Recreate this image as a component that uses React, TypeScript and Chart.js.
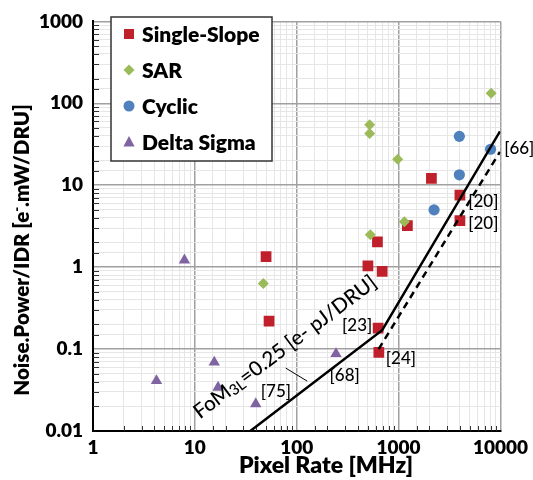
import React, { useEffect, useRef } from 'react';
import { Chart, registerables } from 'chart.js';

Chart.register(...registerables);

// ---------- data ----------
const singleSlopeX = [2100, 4000, 4000, 1220, 620, 500, 690, 630, 640, 50, 53.5];
const singleSlopeY = [12.1, 7.55, 3.69, 3.21, 2.03, 1.04, 0.89, 0.18, 0.091, 1.34, 0.22];
const sarX = [8100, 520, 520, 980, 1140, 528, 47];
const sarY = [133, 54.8, 42.7, 20.7, 3.59, 2.48, 0.63];
const cyclicX = [3950, 8000, 3950, 2230];
const cyclicY = [39.5, 27.5, 13.4, 5.0];
const deltaX = [7.9, 15.5, 4.2, 16.9, 39.6, 243];
const deltaY = [1.22, 0.069, 0.041, 0.034, 0.0214, 0.0876];
const fomSolidX = [35, 690, 9900];
const fomSolidY = [0.01, 0.17, 45.5];
const fomDashX = [637, 9870];
const fomDashY = [0.1, 25.5];

const seriesNames = ['Single-Slope', 'SAR', 'Cyclic', 'Delta Sigma'];
const seriesColors = ['#C0202B', '#9BBB59', '#4F81BD', '#8064A2'];
const seriesStyles = ['rect', 'rectRot', 'circle', 'triangle'];

const xTickValues = [1, 10, 100, 1000, 10000];
const yTickValues = [0.01, 0.1, 1, 10, 100, 1000];

// reference labels: [text, x value, y value] (left-middle anchor)
const refLabels: [string, number, number][] = [
  ['[66]', 10870, 28.0],
  ['[20]', 4830, 6.3],
  ['[20]', 4830, 3.44],
  ['[23]', 278.6, 0.195],
  ['[24]', 750, 0.076],
  ['[68]', 210, 0.048],
  ['[75]', 44.4, 0.0303],
];
const fomLabelAnchor = [11.2, 0.0138];
const leaderX = [77.9, 126.8];
const leaderY = [0.0587, 0.0406];

const FONT = 'Lato, "Open Sans", sans-serif';
const BOLD = '800';

const zip = (xs: number[], ys: number[]) => xs.map((x, i) => ({ x, y: ys[i] }));
const isPow10 = (v: number) => Math.abs(Math.log10(v) - Math.round(Math.log10(v))) < 1e-9;

function drawMarker(ctx: CanvasRenderingContext2D, style: string, x: number, y: number, color: string) {
  ctx.save();
  ctx.fillStyle = color;
  ctx.beginPath();
  if (style === 'rect') {
    ctx.rect(x - 5, y - 5, 10, 10);
  } else if (style === 'rectRot') {
    ctx.moveTo(x - 5.5, y);
    ctx.lineTo(x, y - 5.5);
    ctx.lineTo(x + 5.5, y);
    ctx.lineTo(x, y + 5.5);
    ctx.closePath();
  } else if (style === 'circle') {
    ctx.arc(x, y, 5.5, 0, Math.PI * 2);
  } else {
    ctx.moveTo(x, y - 6);
    ctx.lineTo(x + 5.6, y + 4.5);
    ctx.lineTo(x - 5.6, y + 4.5);
    ctx.closePath();
  }
  ctx.fill();
  ctx.restore();
}

const decorPlugin = {
  id: 'decor',
  beforeDatasetsDraw(chart: any) {
    const { ctx, chartArea: a, scales } = chart;
    const xs = scales.x;
    const ys = scales.y;
    ctx.save();
    ctx.strokeStyle = '#333';
    ctx.lineWidth = 1;
    ctx.beginPath();
    xs.ticks.forEach((t: any) => {
      if (isPow10(t.value)) return;
      const px = Math.round(xs.getPixelForValue(t.value)) + 0.5;
      ctx.moveTo(px, a.bottom);
      ctx.lineTo(px, a.bottom - 5);
    });
    ys.ticks.forEach((t: any) => {
      if (isPow10(t.value)) return;
      const py = Math.round(ys.getPixelForValue(t.value)) + 0.5;
      ctx.moveTo(a.left, py);
      ctx.lineTo(a.left + 6, py);
    });
    ctx.stroke();
    ctx.restore();
  },
  afterDatasetsDraw(chart: any) {
    const { ctx, scales } = chart;
    const xs = scales.x;
    const ys = scales.y;
    ctx.save();
    ctx.fillStyle = '#000';
    ctx.font = `500 17px ${FONT}`;
    ctx.textAlign = 'left';
    ctx.textBaseline = 'middle';
    refLabels.forEach(([t, vx, vy]) => {
      ctx.fillText(t, xs.getPixelForValue(vx), ys.getPixelForValue(vy));
    });
    // leader line
    ctx.strokeStyle = '#000';
    ctx.lineWidth = 1;
    ctx.beginPath();
    ctx.moveTo(xs.getPixelForValue(leaderX[0]), ys.getPixelForValue(leaderY[0]));
    ctx.lineTo(xs.getPixelForValue(leaderX[1]), ys.getPixelForValue(leaderY[1]));
    ctx.stroke();
    // rotated FoM label
    ctx.translate(xs.getPixelForValue(fomLabelAnchor[0]), ys.getPixelForValue(fomLabelAnchor[1]));
    ctx.rotate((-37 * Math.PI) / 180);
    ctx.textBaseline = 'alphabetic';
    ctx.font = `500 20.5px ${FONT}`;
    ctx.fillText('FoM', 0, 0);
    let w = ctx.measureText('FoM').width;
    ctx.font = `500 15px ${FONT}`;
    ctx.fillText('3L', w, 2);
    w += ctx.measureText('3L').width;
    ctx.font = `500 20.5px ${FONT}`;
    ctx.fillText('=0.25 [e- pJ/DRU]', w, 0);
    ctx.restore();
  },
  afterDraw(chart: any) {
    const { ctx } = chart;
    ctx.save();
    // legend
    ctx.fillStyle = '#fff';
    ctx.fillRect(111, 17, 161, 144);
    ctx.strokeStyle = '#333';
    ctx.lineWidth = 1.5;
    ctx.strokeRect(111, 17, 161, 144);
    ctx.font = `${BOLD} 21px ${FONT}`;
    ctx.textAlign = 'left';
    ctx.textBaseline = 'middle';
    seriesNames.forEach((n, i) => {
      const cy = 34 + 36 * i;
      drawMarker(ctx, seriesStyles[i], 129, cy, seriesColors[i]);
      ctx.fillStyle = '#000';
      ctx.fillText(n, 142, cy + 1);
    });
    // x title
    ctx.fillStyle = '#000';
    ctx.font = `${BOLD} 23px ${FONT}`;
    ctx.textAlign = 'center';
    ctx.textBaseline = 'alphabetic';
    ctx.fillText('Pixel Rate [MHz]', 326, 473);
    // y title with superscript minus
    ctx.translate(29, 250);
    ctx.rotate(-Math.PI / 2);
    const p1 = 'Noise.Power/IDR [e';
    const p2 = '-';
    const p3 = '.mW/DRU]';
    ctx.font = `${BOLD} 20.5px ${FONT}`;
    const w1 = ctx.measureText(p1).width;
    const w3 = ctx.measureText(p3).width;
    ctx.font = `${BOLD} 13px ${FONT}`;
    const w2 = ctx.measureText(p2).width;
    const total = w1 + w2 + w3;
    ctx.textAlign = 'left';
    let sx = -total / 2;
    ctx.font = `${BOLD} 20.5px ${FONT}`;
    ctx.fillText(p1, sx, 0);
    sx += w1;
    ctx.font = `${BOLD} 13px ${FONT}`;
    ctx.fillText(p2, sx, -8);
    sx += w2;
    ctx.font = `${BOLD} 20.5px ${FONT}`;
    ctx.fillText(p3, sx, 0);
    ctx.restore();
  },
};

function makeScatter(i: number, xs: number[], ys: number[], order: number) {
  const r = seriesStyles[i] === 'rect' ? 7.6 : seriesStyles[i] === 'rectRot' ? 5.5 : seriesStyles[i] === 'circle' ? 5.6 : 6.6;
  return {
    type: 'scatter' as const,
    label: seriesNames[i],
    data: zip(xs, ys),
    pointStyle: seriesStyles[i],
    pointRadius: r,
    pointBackgroundColor: seriesColors[i],
    pointBorderWidth: 0,
    borderColor: seriesColors[i],
    showLine: false,
    order,
  };
}

export default function App() {
  const ref = useRef<HTMLCanvasElement | null>(null);
  useEffect(() => {
    if (!ref.current) return;
    Chart.defaults.font.family = FONT;
    const gridColor = (c: any) => (c.tick && isPow10(c.tick.value) ? '#a0a0a0' : '#e6e6e6');
    const gridWidth = (c: any) => (c.tick && isPow10(c.tick.value) ? 1.5 : 1);
    const tickCb = (v: any) => {
      const n = Number(Number(v).toPrecision(6));
      return isPow10(n) && (xTickValues.includes(n) || yTickValues.includes(n)) ? String(n) : '';
    };
    const chart = new Chart(ref.current, {
      type: 'scatter',
      data: {
        datasets: [
          {
            type: 'line',
            label: 'FoM',
            data: zip(fomSolidX, fomSolidY),
            borderColor: '#000',
            borderWidth: 2.5,
            pointRadius: 0,
            fill: false,
            tension: 0,
            showLine: true,
            order: 0,
          } as any,
          {
            type: 'line',
            label: 'FoM dashed',
            data: zip(fomDashX, fomDashY),
            borderColor: '#000',
            borderWidth: 2.5,
            borderDash: [7, 5],
            pointRadius: 0,
            fill: false,
            tension: 0,
            showLine: true,
            order: 0,
          } as any,
          makeScatter(3, deltaX, deltaY, 1),
          makeScatter(2, cyclicX, cyclicY, 2),
          makeScatter(1, sarX, sarY, 3),
          makeScatter(0, singleSlopeX, singleSlopeY, 4),
        ] as any,
      },
      options: {
        animation: false,
        responsive: false,
        devicePixelRatio: 1,
        layout: { padding: { top: 14, right: 31, left: 0, bottom: 0 } },
        plugins: { legend: { display: false }, tooltip: { enabled: false } },
        scales: {
          x: {
            type: 'logarithmic',
            min: 1,
            max: 10000,
            afterFit: (s: any) => {
              s.height = 49;
            },
            grid: { color: gridColor, lineWidth: gridWidth, drawTicks: false },
            border: { display: true, color: '#000', width: 2 },
            ticks: {
              autoSkip: false,
              maxRotation: 0,
              padding: 5,
              color: '#000',
              font: { family: FONT, size: 19, weight: BOLD },
              callback: tickCb,
            },
          },
          y: {
            type: 'logarithmic',
            min: 0.01,
            max: 1000,
            afterFit: (s: any) => {
              s.width = 93;
            },
            grid: { color: gridColor, lineWidth: gridWidth, drawTicks: false },
            border: { display: true, color: '#000', width: 2 },
            ticks: {
              autoSkip: false,
              padding: 10,
              color: '#000',
              font: { family: FONT, size: 19, weight: BOLD },
              callback: tickCb,
            },
          },
        },
      } as any,
      plugins: [decorPlugin],
    });
    return () => chart.destroy();
  }, []);
  return (
    <div style={{ position: 'absolute', left: 0, top: 0, width: 533, height: 480, background: '#fff' }}>
      <canvas ref={ref} width={533} height={480} style={{ width: 533, height: 480 }} />
    </div>
  );
}
